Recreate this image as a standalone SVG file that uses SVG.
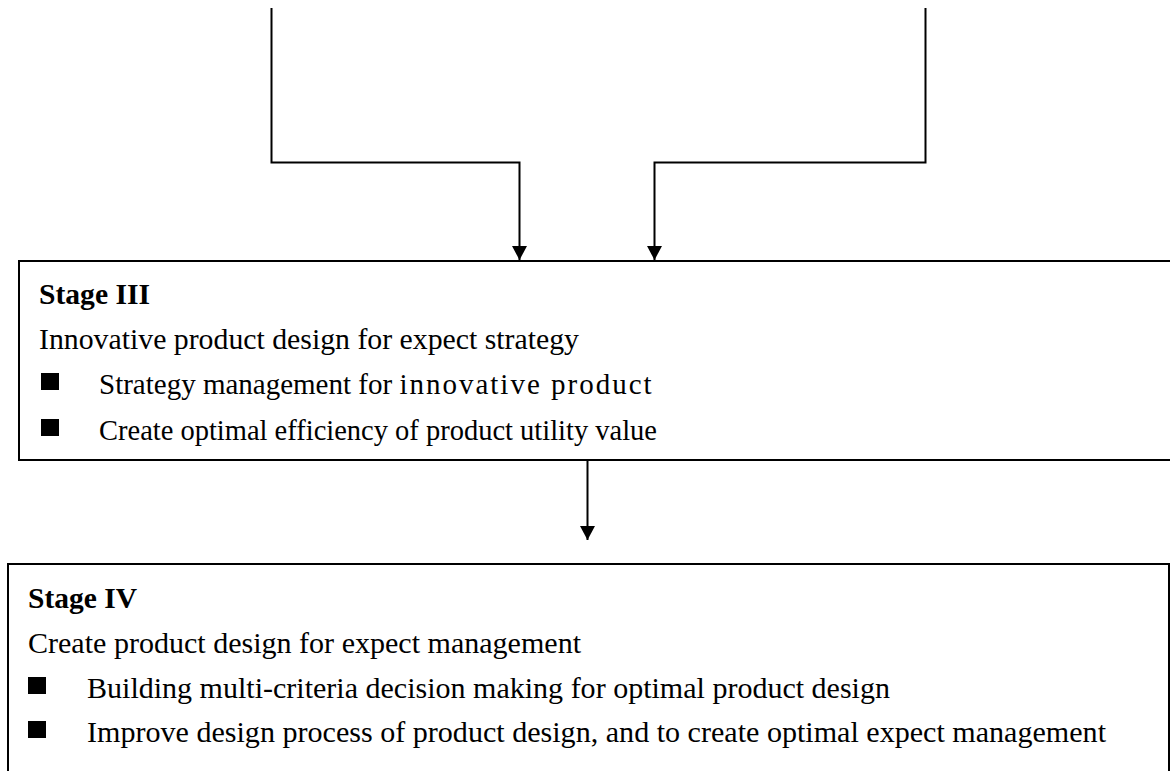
<svg xmlns="http://www.w3.org/2000/svg" width="1170" height="771" viewBox="0 0 1170 771">
  <style>
    .box { fill: #ffffff; stroke: #000000; stroke-width: 2; }
    .conn { fill: none; stroke: #000000; stroke-width: 2; }
    .title { font-family: "Liberation Serif", "Times New Roman", serif; font-size: 29px; font-weight: bold; fill: #000000; }
    .body { font-family: "Liberation Serif", "Times New Roman", serif; font-size: 29px; fill: #000000; }
    .bullet { fill: #000000; }
  </style>
  <defs>
    <marker id="arrow" viewBox="0 0 14 15" refX="14" refY="7.5" markerWidth="14" markerHeight="15" markerUnits="userSpaceOnUse" orient="auto">
      <path d="M0,0 L14,7.5 L0,15 z" fill="#000000"/>
    </marker>
  </defs>
  <rect width="1170" height="771" fill="#ffffff"/>

  <!-- Stage III -->
  <g id="stage3">
    <rect class="box" x="19" y="261" width="1200" height="199"/>
    <text class="title" x="39" y="304" textLength="111" lengthAdjust="spacingAndGlyphs">Stage III</text>
    <text class="body" x="39" y="349" textLength="540" lengthAdjust="spacingAndGlyphs">Innovative product design for expect strategy</text>
    <rect class="bullet" x="41" y="373" width="18" height="17"/>
    <text class="body" x="99" y="394">Strategy management for <tspan letter-spacing="2">innovative product</tspan></text>
    <rect class="bullet" x="41" y="419" width="18" height="17"/>
    <text class="body" x="99" y="440" textLength="558" lengthAdjust="spacingAndGlyphs">Create optimal efficiency of product utility value</text>
  </g>

  <!-- Stage IV -->
  <g id="stage4">
    <rect class="box" x="8" y="564" width="1161" height="240"/>
    <text class="title" x="28" y="608" textLength="109" lengthAdjust="spacingAndGlyphs">Stage IV</text>
    <text class="body" x="28" y="653" textLength="553" lengthAdjust="spacingAndGlyphs">Create product design for expect management</text>
    <rect class="bullet" x="28" y="677" width="18" height="17"/>
    <text class="body" x="87" y="698" textLength="803" lengthAdjust="spacingAndGlyphs">Building multi-criteria decision making for optimal product design</text>
    <rect class="bullet" x="28" y="721" width="18" height="17"/>
    <text class="body" x="87" y="742" textLength="1019" lengthAdjust="spacingAndGlyphs">Improve design process of product design, and to create optimal expect management</text>
  </g>

  <!-- Connectors -->
  <g id="connectors">
    <path class="conn" d="M271.5 8 V162.5 H519.5 V260" marker-end="url(#arrow)"/>
    <path class="conn" d="M925.5 8 V162.5 H654.5 V260" marker-end="url(#arrow)"/>
    <path class="conn" d="M587.5 461 V540" marker-end="url(#arrow)"/>
  </g>
</svg>
